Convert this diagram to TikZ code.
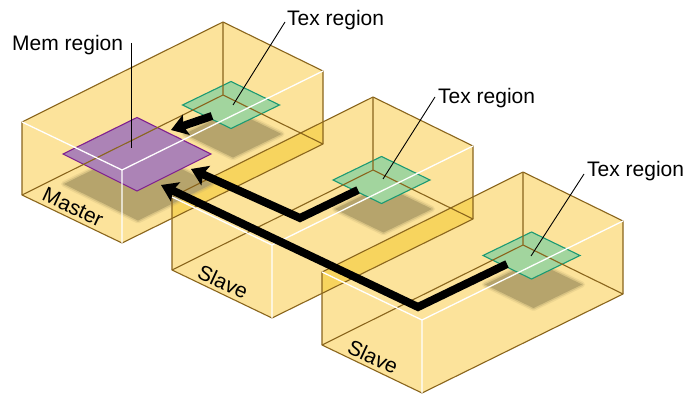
\documentclass[tikz,border=0pt]{standalone}
\usepackage{fontspec}
\setmainfont{Liberation Sans}
\usetikzlibrary{arrows.meta}
\definecolor{boxfill}{HTML}{FCE39B}
\definecolor{boxdark}{HTML}{F7D45E}
\definecolor{edgebrown}{HTML}{8A651C}
\definecolor{shadowc}{HTML}{B6A46C}
\definecolor{texgreen}{HTML}{A2D59E}
\definecolor{texborder}{HTML}{1B9A73}
\definecolor{memfill}{HTML}{AC83B6}
\definecolor{memborder}{HTML}{80208F}
\begin{document}
\begin{tikzpicture}[x=1pt,y=-1pt,
  brownedge/.style={draw=edgebrown, line width=1.1pt},
  whiteedge/.style={draw=white, line width=1.3pt},
  flow/.style={line width=8pt, -{Stealth[length=16pt,width=21pt,inset=3pt]}},
  leader/.style={draw=black, line width=0.9pt},
  lbl/.style={font=\fontsize{21}{25}\selectfont, inner sep=0pt},
  texregion/.style={fill=texgreen, draw=texborder, line width=1.1pt},
  memregion/.style={fill=memfill, draw=memborder, line width=1.1pt},
]
\useasboundingbox (0,0) rectangle (687,393);
\fill[white] (0,0) rectangle (687,393);

% box corners
\foreach \i/\px/\py in {1/22/122,2/172/197,3/322/272}{
  \coordinate (A\i) at (\px,\py);
  \coordinate (B\i) at (\px+201,\py-100);
  \coordinate (C\i) at (\px+301,\py-51);
  \coordinate (D\i) at (\px+100,\py+48);
  \coordinate (Ab\i) at (\px,\py+73);
  \coordinate (Bb\i) at (\px+201,\py-27);
  \coordinate (Cb\i) at (\px+301,\py+22);
  \coordinate (Db\i) at (\px+100,\py+121);
  \coordinate (lab\i) at (\px+51,\py+85);
}

% box bodies
\foreach \i in {1,2,3}
  \fill[boxfill] (A\i)--(B\i)--(C\i)--(Cb\i)--(Db\i)--(Ab\i)--cycle;
\foreach \i/\j in {1/2,2/3}{
  \begin{scope}
    \clip (A\i)--(B\i)--(C\i)--(Cb\i)--(Db\i)--(Ab\i)--cycle;
    \fill[boxdark] (A\j)--(B\j)--(C\j)--(Cb\j)--(Db\j)--(Ab\j)--cycle;
  \end{scope}
}

% shadows
\begin{scope}[shift={(2,29)}]
\foreach \cx/\cy/\hw/\hh in {231/105/48.5/23.5, 381.5/180/48.5/23.5, 531.5/255.5/48.5/23.5, 136/155/74/36.5}{
  \draw[shadowc, opacity=.2, line width=6pt, line join=round] (\cx-\hw,\cy)--(\cx,\cy-\hh)--(\cx+\hw,\cy)--(\cx,\cy+\hh)--cycle;
  \draw[shadowc, opacity=.4, line width=3pt, line join=round] (\cx-\hw,\cy)--(\cx,\cy-\hh)--(\cx+\hw,\cy)--(\cx,\cy+\hh)--cycle;
  \fill[shadowc] (\cx-\hw,\cy)--(\cx,\cy-\hh)--(\cx+\hw,\cy)--(\cx,\cy+\hh)--cycle;
}
\end{scope}

% regions
\foreach \cx/\cy in {231/105, 381.5/180, 531.5/255.5}
  \draw[texregion] (\cx-48.5,\cy)--(\cx,\cy-23.5)--(\cx+48.5,\cy)--(\cx,\cy+23.5)--cycle;
\draw[memregion] (63,154)--(137,117.5)--(211,154)--(137,191)--cycle;

% box edges
\foreach \i in {1,2,3}{
  \draw[brownedge] (B\i)--(Bb\i) (Bb\i)--(Ab\i) (Bb\i)--(Cb\i);
  \draw[brownedge, line join=round] (Ab\i)--(A\i)--(B\i)--(C\i)--(Cb\i)--(Db\i)--cycle;
  \draw[whiteedge] (A\i)--(D\i)--(C\i) (D\i)--(Db\i);
}

% data flow arrows
\coordinate (f1s) at (212,116); \coordinate (f1e) at (171,130);
\coordinate (f2s) at (358,190); \coordinate (f2m) at (300,218); \coordinate (f2e) at (191,169);
\coordinate (f3s) at (507,264); \coordinate (f3m) at (418,307); \coordinate (f3e) at (161,185);
\draw[flow] (f1s) -- (f1e);
\draw[flow] (f2s) -- (f2m) -- (f2e);
\draw[flow] (f3s) -- (f3m) -- (f3e);

% labels
\node[lbl, anchor=base west] (memlbl) at (12,51) {Mem region};
\node[lbl, anchor=base west] (tex1) at (287,26) {Tex region};
\node[lbl, anchor=base west] (tex2) at (438,103) {Tex region};
\node[lbl, anchor=base west] (tex3) at (587,176) {Tex region};
\node[lbl, rotate=-25] (master) at (lab1) {Master};
\node[lbl, rotate=-25] (slave1) at (lab2) {Slave};
\node[lbl, rotate=-25] (slave2) at (lab3) {Slave};

% leader lines
\coordinate (m0) at (131,43); \coordinate (m1) at (131,148);
\coordinate (t10) at (285,22); \coordinate (t11) at (233,105);
\coordinate (t20) at (435,97); \coordinate (t21) at (383,179);
\coordinate (t30) at (584,174); \coordinate (t31) at (531,256);
\draw[leader] (m0) -- (m1);
\draw[leader] (t10) -- (t11);
\draw[leader] (t20) -- (t21);
\draw[leader] (t30) -- (t31);
\end{tikzpicture}
\end{document}
